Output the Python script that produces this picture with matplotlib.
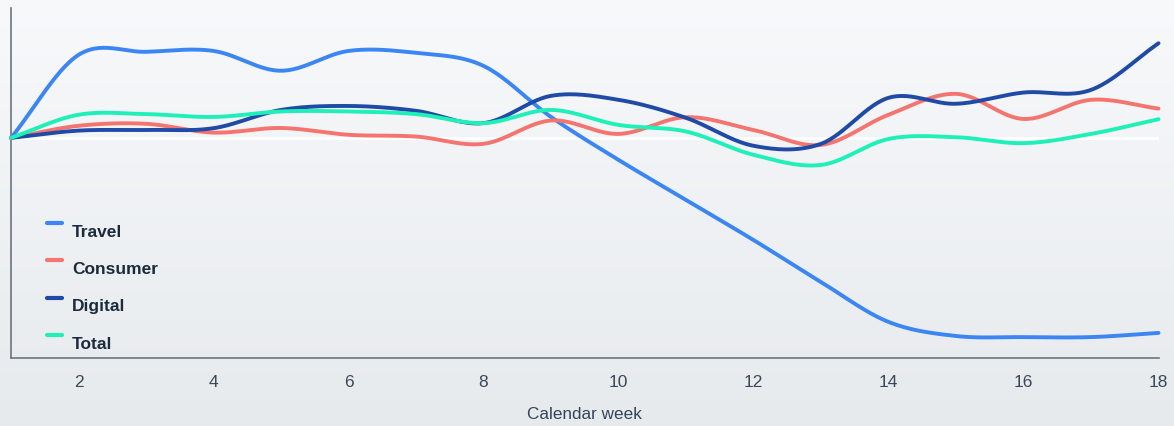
import numpy as np
import matplotlib
matplotlib.use("Agg")
import matplotlib.pyplot as plt
from matplotlib.lines import Line2D

plt.rcParams["font.family"] = ["Liberation Sans", "DejaVu Sans"]

# weekly index change vs. week 1, in percent
weeks = list(range(1, 19))
travel = [0, 37.7, 39.1, 39.5, 30.5, 39.5, 38.6, 32.7, 9.5, -10.0, -28.2,
          -46.4, -65.5, -83.6, -90.0, -90.5, -90.5, -88.6]
consumer = [0, 5.5, 6.4, 2.4, 4.5, 1.4, 0.6, -2.7, 7.9, 1.8, 9.4,
            3.6, -3.2, 10.5, 20.0, 8.6, 17.3, 13.3]
digital = [0, 3.3, 3.6, 4.4, 12.7, 14.5, 12.3, 6.7, 19.1, 17.3, 9.1,
           -3.6, -2.7, 18.2, 15.5, 20.6, 21.8, 43.0]
total = [0, 10.5, 10.8, 9.5, 12.0, 12.0, 10.8, 6.7, 12.7, 5.9, 2.9,
         -7.7, -12.3, -0.5, 0.3, -2.4, 1.8, 8.5]

series = [
    ("Travel", travel, "#3b86f2"),
    ("Consumer", consumer, "#f47570"),
    ("Digital", digital, "#1f4aa5"),
    ("Total", total, "#1ef0b8"),
]


def catmull_rom(x, y, steps=30):
    """Smooth curve through the points (cubic Hermite, Catmull-Rom tangents)."""
    x = np.asarray(x, float)
    y = np.asarray(y, float)
    m = np.empty_like(y)
    m[1:-1] = (y[2:] - y[:-2]) / (x[2:] - x[:-2])
    m[0] = (y[1] - y[0]) / (x[1] - x[0])
    m[-1] = (y[-1] - y[-2]) / (x[-1] - x[-2])
    xs, ys = [], []
    for i in range(len(x) - 1):
        h = x[i + 1] - x[i]
        t = np.linspace(0, 1, steps, endpoint=False)
        h00 = 2 * t**3 - 3 * t**2 + 1
        h10 = t**3 - 2 * t**2 + t
        h01 = -2 * t**3 + 3 * t**2
        h11 = t**3 - t**2
        xs.append(x[i] + t * h)
        ys.append(h00 * y[i] + h10 * h * m[i] + h01 * y[i + 1] + h11 * h * m[i + 1])
    xs.append([x[-1]])
    ys.append([y[-1]])
    return np.concatenate(xs), np.concatenate(ys)


fig = plt.figure(figsize=(11.74, 4.26), dpi=100)

# soft vertical gradient behind everything
bg = fig.add_axes([0, 0, 1, 1], zorder=0)
grad = np.linspace(0, 1, 256).reshape(-1, 1)
top = np.array([0.969, 0.976, 0.984])
bottom = np.array([0.906, 0.918, 0.929])
img = top + (bottom - top) * grad[:, :, None]
bg.imshow(img, aspect="auto", extent=[0, 1, 0, 1])
bg.axis("off")

ax = fig.add_axes([0.0094, 0.1596, 0.9774, 0.8216], zorder=1)
ax.set_facecolor("none")

ax.axhline(0, color="white", lw=2.2, zorder=1)

for name, vals, color in series:
    xs, ys = catmull_rom(weeks, vals)
    ax.plot(xs, ys, color=color, lw=2.8, solid_capstyle="round",
            zorder=3, clip_on=False)

ax.set_xlim(1, 18)
ax.set_ylim(-100, 59)
ax.set_xticks(range(2, 19, 2))
ax.set_yticks([])
ax.tick_params(axis="x", length=0, pad=12.5, labelsize=12.5, labelcolor="#3b4858")
ax.set_xlabel("Calendar week", fontsize=12.3, color="#33445a", labelpad=12)

for side in ("top", "right"):
    ax.spines[side].set_visible(False)
for side in ("left", "bottom"):
    ax.spines[side].set_color("#6b7580")
    ax.spines[side].set_linewidth(1.2)

# hand-placed legend: short dash above-left of each bold label
leg_y0 = 0.36
leg_step = 0.107
for i, (name, vals, color) in enumerate(series):
    y = leg_y0 - i * leg_step
    ax.add_line(Line2D([0.031, 0.044], [y + 0.026, y + 0.026], transform=ax.transAxes,
                       color=color, lw=3, solid_capstyle="round", zorder=4))
    ax.text(0.053, y, name, transform=ax.transAxes, fontsize=12.5, fontweight="bold",
            color="#1c2b3c", va="center", ha="left", zorder=4)

fig.savefig("out.png", dpi=100)
